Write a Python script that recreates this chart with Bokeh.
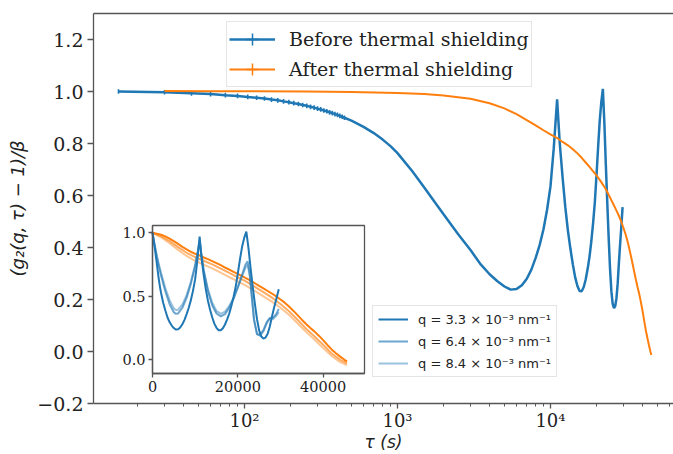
from bokeh.plotting import figure
from bokeh.models import (Range1d, LinearAxis, LogAxis, FixedTicker, LogTicker,
                          CustomJSTickFormatter, Legend, LegendItem, LinearScale)
from bokeh.embed import file_html
from bokeh.resources import INLINE

# ---------------- data ----------------
blue_tau = [15, 30, 45, 60, 75, 90, 105, 120, 135, 150, 165, 180, 195, 210, 225,
            240, 255, 270, 285, 300, 315, 330, 345, 360, 375, 390, 405, 420, 435, 450,
            500, 600, 700, 800, 900, 1000, 1250, 1500, 1750, 2000, 2500, 3000, 3500,
            4000, 4500, 5000, 5500, 6000, 6500, 7000, 7500, 8000, 8500, 9000, 9500,
            10000, 10500, 11050, 11500, 12000, 12500, 13000, 13500, 14000, 14500,
            15000, 15500, 16000, 16500, 17000, 17500, 18000, 18500, 19000, 19500,
            20000, 20500, 21000, 21500, 22000, 22500, 23000, 23500, 24000, 24500,
            25000, 25500, 26000, 26500, 27000, 27500, 28000, 28500, 29000, 29600]
blue_g = [1.000, 0.997, 0.993, 0.990, 0.986, 0.983, 0.979, 0.976, 0.973, 0.969,
          0.966, 0.962, 0.959, 0.955, 0.952, 0.948, 0.945, 0.941, 0.938, 0.934,
          0.931, 0.927, 0.924, 0.920, 0.917, 0.913, 0.910, 0.906, 0.903, 0.899,
          0.888, 0.864, 0.840, 0.815, 0.790, 0.763, 0.693, 0.630, 0.575, 0.528,
          0.450, 0.390, 0.335, 0.297, 0.270, 0.250, 0.238, 0.240, 0.255, 0.280,
          0.315, 0.360, 0.410, 0.470, 0.545, 0.635, 0.780, 0.970, 0.800, 0.670,
          0.555, 0.465, 0.395, 0.335, 0.285, 0.252, 0.233, 0.232, 0.248, 0.278,
          0.318, 0.365, 0.425, 0.495, 0.575, 0.680, 0.790, 0.890, 0.960, 1.010,
          0.880, 0.720, 0.575, 0.440, 0.320, 0.232, 0.183, 0.167, 0.175, 0.205,
          0.262, 0.340, 0.410, 0.475, 0.555]
# error bars visible on the first (short-lag) points
blue_err = [0.009, 0.009, 0.009, 0.009, 0.009, 0.009, 0.009, 0.009, 0.009, 0.009,
            0.009, 0.009, 0.009, 0.009, 0.009, 0.009, 0.009, 0.009, 0.009, 0.009,
            0.009, 0.009, 0.009, 0.009, 0.009, 0.009, 0.009, 0.009, 0.009, 0.009]

orange_tau = [30, 60, 120, 250, 500, 1000, 1500, 2000, 3000, 4000, 5000, 6000, 7000,
              8000, 9000, 10000, 11000, 12000, 13000, 14000, 15000, 16000, 17000,
              18000, 19000, 20000, 21000, 22000, 23000, 24000, 25000, 26000, 27000,
              28000, 29000, 30000, 31000, 32000, 33000, 34000, 35000, 36000, 37000,
              38000, 39000, 40000, 41000, 42000, 43000, 44000, 45000, 45600]
orange_g = [1.002, 1.001, 1.001, 1.000, 0.998, 0.994, 0.990, 0.985, 0.972, 0.955,
            0.935, 0.913, 0.890, 0.870, 0.851, 0.835, 0.822, 0.806, 0.793, 0.778,
            0.762, 0.745, 0.727, 0.710, 0.693, 0.677, 0.660, 0.642, 0.624, 0.603,
            0.582, 0.562, 0.542, 0.522, 0.500, 0.475, 0.450, 0.420, 0.387, 0.352,
            0.316, 0.282, 0.250, 0.222, 0.190, 0.155, 0.117, 0.082, 0.052, 0.025,
            0.000, -0.013]

# inset: other q values
bq_tau = [0, 500, 1000, 1500, 2000, 3000, 4000, 5000, 5500, 6000, 7000, 8000, 9000,
          10000, 10500, 11050, 11500, 12000, 13000, 14000, 15000, 16000, 17000, 18000,
          19000, 20000, 21000, 21800, 22300, 22800, 23300, 23800, 24500, 25200, 26000,
          26800, 27500, 28200, 29000, 29600]
blue_q2 = [1.0, 0.90, 0.81, 0.735, 0.665, 0.54, 0.44, 0.375, 0.362, 0.365, 0.41, 0.49,
           0.60, 0.74, 0.83, 0.94, 0.82, 0.70, 0.54, 0.43, 0.365, 0.342, 0.36, 0.41,
           0.48, 0.57, 0.67, 0.75, 0.775, 0.68, 0.50, 0.32, 0.20, 0.19, 0.225, 0.29,
           0.33, 0.33, 0.36, 0.40]
blue_q3 = [1.0, 0.91, 0.825, 0.75, 0.685, 0.565, 0.47, 0.405, 0.392, 0.395, 0.435,
           0.51, 0.615, 0.75, 0.83, 0.93, 0.82, 0.71, 0.555, 0.45, 0.385, 0.362, 0.38,
           0.425, 0.49, 0.57, 0.66, 0.725, 0.748, 0.66, 0.48, 0.31, 0.205, 0.20, 0.235,
           0.30, 0.325, 0.32, 0.345, 0.375]

oq_tau = [0, 2000, 4000, 6000, 8000, 10000, 12000, 14000, 16000, 18000, 20000, 22000,
          24000, 26000, 28000, 30000, 32000, 34000, 36000, 38000, 40000, 42000, 44000,
          45600]
orange_q2 = [1.0, 0.975, 0.935, 0.888, 0.843, 0.808, 0.780, 0.752, 0.719, 0.684, 0.650,
             0.615, 0.575, 0.533, 0.490, 0.440, 0.383, 0.315, 0.245, 0.183, 0.118,
             0.050, 0.0, -0.028]
orange_q3 = [1.0, 0.965, 0.918, 0.866, 0.818, 0.780, 0.750, 0.720, 0.687, 0.652, 0.618,
             0.582, 0.542, 0.500, 0.458, 0.410, 0.355, 0.288, 0.220, 0.158, 0.092,
             0.030, -0.018, -0.042]

series_labels = ["Before thermal shielding", "After thermal shielding"]
q_labels = ["q = 3.3 × 10⁻³ nm⁻¹", "q = 6.4 × 10⁻³ nm⁻¹", "q = 8.4 × 10⁻³ nm⁻¹"]
x_title = "τ (s)"
y_title = "(g₂(q, τ) − 1)/β"
y_ticks = [-0.2, 0.0, 0.2, 0.4, 0.6, 0.8, 1.0, 1.2]
inset_x_ticks = [0, 20000, 40000]
inset_y_ticks = [0.0, 0.5, 1.0]

BLUE = "#1f77b4"
ORANGE = "#ff7f0e"
SPINE = "#555555"
TXT = "#222222"

# ---------------- layout geometry (pixels) ----------------
W, H = 673, 454
FL, FT, FR, FB = 93, 13, 673, 403          # main frame
IL, IT, IR, IB = 152, 225, 364, 373        # inset frame
ix0, ix1 = 0.0, 49700.0                    # inset data window
iy0, iy1 = -0.108, 1.058
XR = (10.3, 63700.0)
YR = (-0.2, 1.3)

kx = (ix1 - ix0) / (IR - IL)
ky = (iy1 - iy0) / (IB - IT)
ixr = Range1d(ix0 - (IL - FL) * kx, ix1 + (FR - IR) * kx)
iyr = Range1d(iy0 - (FB - IB) * ky, iy1 + (IT - FT) * ky)

p = figure(width=W, height=H, x_axis_type="log",
           x_range=Range1d(*XR), y_range=Range1d(*YR),
           output_backend="svg", toolbar_location=None,
           min_border_left=FL, min_border_right=W - FR,
           min_border_top=FT, min_border_bottom=H - FB)
p.extra_x_ranges = {"ix": ixr}
p.extra_y_ranges = {"iy": iyr}
p.extra_x_scales = {"ix": LinearScale()}
p.extra_y_scales = {"iy": LinearScale()}
p.outline_line_color = None
p.xgrid.visible = False
p.ygrid.visible = False
p.background_fill_color = "white"
p.border_fill_color = "white"


def style_axis(ax, fs, tick=6):
    ax.axis_line_color = SPINE
    ax.axis_line_width = 1.3
    ax.major_tick_line_color = SPINE
    ax.major_tick_line_width = 1.3
    ax.minor_tick_line_color = SPINE
    ax.minor_tick_line_width = 1.0
    ax.major_tick_out = tick
    ax.major_tick_in = 0
    ax.minor_tick_out = 3
    ax.minor_tick_in = 0
    ax.major_label_text_font = "DejaVu Serif"
    ax.major_label_text_font_size = fs
    ax.major_label_text_color = TXT


# main axes
xa = p.xaxis[0]
xa.ticker = LogTicker(mantissas=[1], num_minor_ticks=10)
xa.formatter = CustomJSTickFormatter(code="""
const e = Math.round(Math.log10(tick));
const sup = {'0':'⁰','1':'¹','2':'²','3':'³','4':'⁴','5':'⁵','6':'⁶','7':'⁷','8':'⁸','9':'⁹','-':'⁻'};
return '10' + String(e).split('').map(c => sup[c]).join('');
""")
style_axis(xa, "18px", tick=5)
xa.major_label_standoff = 1
xa.axis_label = x_title
xa.axis_label_text_font = "DejaVu Sans"
xa.axis_label_text_font_style = "italic"
xa.axis_label_text_font_size = "17px"
xa.axis_label_text_color = TXT
xa.axis_label_standoff = -2

ya = p.yaxis[0]
ya.ticker = FixedTicker(ticks=y_ticks)
ya.formatter = CustomJSTickFormatter(code="""
const v = Math.abs(tick) < 1e-9 ? 0 : tick;
return (v < 0 ? '\\u2212' : '') + Math.abs(v).toFixed(1);
""")
style_axis(ya, "19px")
ya.major_label_standoff = 4
ya.axis_label = y_title
ya.axis_label_text_font = "DejaVu Sans"
ya.axis_label_text_font_style = "italic"
ya.axis_label_text_font_size = "18px"
ya.axis_label_text_color = TXT
ya.axis_label_standoff = 6

top = LogAxis(ticker=FixedTicker(ticks=[]), major_label_text_font_size="0px")
top.axis_line_color = SPINE
top.axis_line_width = 1.3
top.major_tick_out = 0
top.minor_tick_out = 0
p.add_layout(top, "above")

# main curves
blue_line = p.line(blue_tau, blue_g, line_color=BLUE, line_width=2.5)
n_err = len(blue_err)
p.segment(x0=blue_tau[:n_err], x1=blue_tau[:n_err],
          y0=[g - e for g, e in zip(blue_g[:n_err], blue_err)],
          y1=[g + e for g, e in zip(blue_g[:n_err], blue_err)],
          line_color=BLUE, line_width=1.6)
orange_line = p.line(orange_tau, orange_g, line_color=ORANGE, line_width=2)

# legend helper glyphs (off-range, only used for the legend's "+" symbol)
blue_cross = p.scatter([1], [-5], marker="cross", size=12, line_color=BLUE, line_width=1.5)
orange_cross = p.scatter([1], [-5], marker="cross", size=12, line_color=ORANGE, line_width=1.5)

# ---------------- inset ----------------
p.quad(left=[ix0], right=[ix1], bottom=[iy0], top=[iy1], fill_color="white",
       line_color=SPINE, line_width=1.3, x_range_name="ix", y_range_name="iy")

ikw = dict(x_range_name="ix", y_range_name="iy")
p.line(oq_tau, orange_q3, line_color=ORANGE, line_alpha=0.45, line_width=2, **ikw)
p.line(oq_tau, orange_q2, line_color=ORANGE, line_alpha=0.65, line_width=2, **ikw)
p.line(orange_tau, orange_g, line_color=ORANGE, line_alpha=1.0, line_width=2, **ikw)
bq3 = p.line(bq_tau, blue_q3, line_color=BLUE, line_alpha=0.45, line_width=2, **ikw)
bq2 = p.line(bq_tau, blue_q2, line_color=BLUE, line_alpha=0.65, line_width=2, **ikw)
bq1 = p.line(blue_tau, blue_g, line_color=BLUE, line_alpha=1.0, line_width=2, **ikw)

iax = LinearAxis(x_range_name="ix", y_range_name="iy", fixed_location=iy0,
                 bounds=(ix0, ix1), ticker=FixedTicker(ticks=inset_x_ticks),
                 formatter=CustomJSTickFormatter(code="return tick.toFixed(0);"))
style_axis(iax, "14.5px", tick=4)
iax.major_label_standoff = 3
p.add_layout(iax, "below")

iay = LinearAxis(x_range_name="ix", y_range_name="iy", fixed_location=ix0,
                 bounds=(iy0, iy1), ticker=FixedTicker(ticks=inset_y_ticks),
                 formatter=CustomJSTickFormatter(code="return tick.toFixed(1);"))
style_axis(iay, "14.5px", tick=4)
iay.major_label_standoff = 3
p.add_layout(iay, "left")

# ---------------- legends ----------------
leg = Legend(items=[LegendItem(label=series_labels[0], renderers=[blue_line, blue_cross]),
                    LegendItem(label=series_labels[1], renderers=[orange_line, orange_cross])],
             location=(226 - FL, FB - 87))
leg.label_text_font = "DejaVu Serif"
leg.label_text_font_size = "19px"
leg.label_text_color = TXT
leg.glyph_width = 46
leg.glyph_height = 30
leg.spacing = 0
leg.padding = 2
leg.margin = 0
leg.label_standoff = 14
leg.border_line_color = "#cccccc"
leg.border_line_width = 1
leg.background_fill_color = "white"
leg.background_fill_alpha = 0.85
p.add_layout(leg, "center")

leg2 = Legend(items=[LegendItem(label=q_labels[0], renderers=[bq1]),
                     LegendItem(label=q_labels[1], renderers=[bq2]),
                     LegendItem(label=q_labels[2], renderers=[bq3])],
              location=(372 - FL, FB - 377))
leg2.label_text_font = "DejaVu Sans"
leg2.label_text_font_size = "13px"
leg2.label_text_color = TXT
leg2.glyph_width = 30
leg2.glyph_height = 16
leg2.spacing = 6
leg2.padding = 5
leg2.margin = 0
leg2.label_standoff = 10
leg2.border_line_color = "#cccccc"
leg2.border_line_width = 1
leg2.background_fill_color = "white"
leg2.background_fill_alpha = 0.85
p.add_layout(leg2, "center")

open("out.html", "w").write(file_html(p, INLINE))
